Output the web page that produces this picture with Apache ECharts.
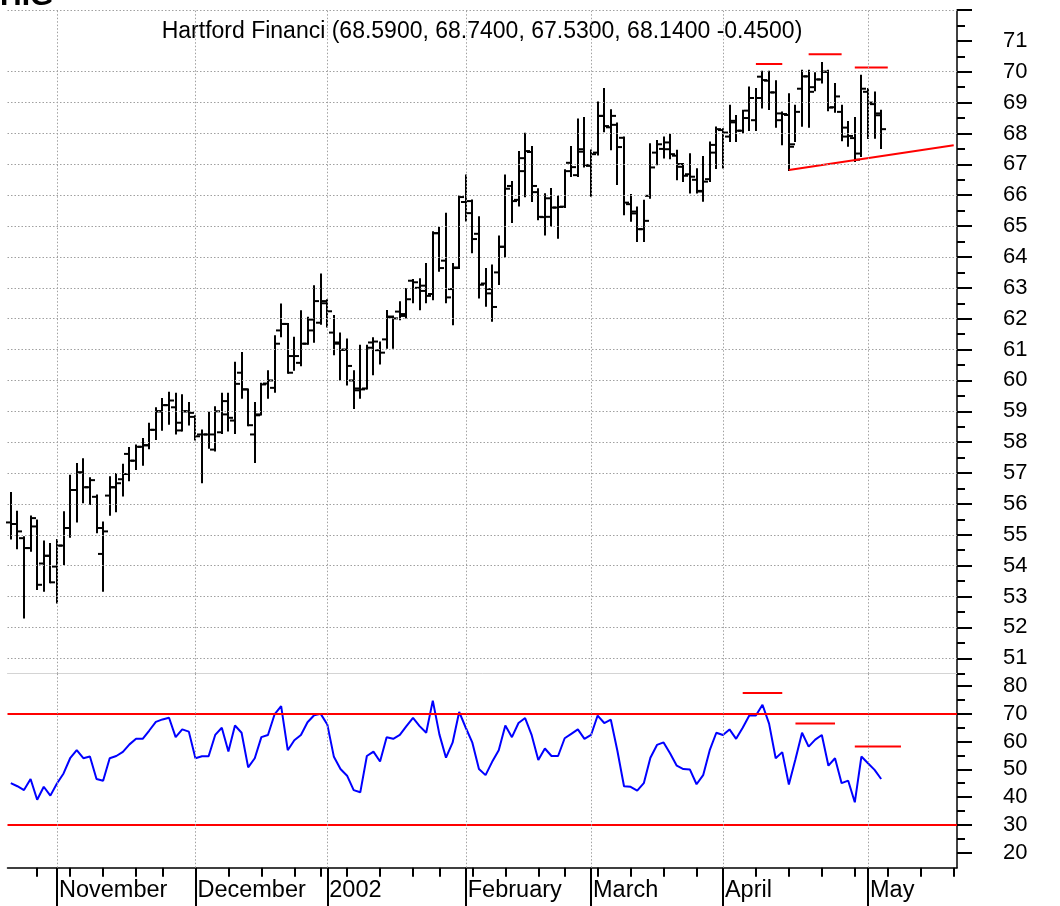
<!DOCTYPE html>
<html>
<head>
<meta charset="utf-8">
<title>HIG</title>
<script src="https://cdn.jsdelivr.net/npm/echarts@6/dist/echarts.min.js"></script>
<style>
html, body { margin: 0; padding: 0; background: #fff; }
#chart { width: 1060px; height: 906px; }
</style>
</head>
<body>
<div id="chart"></div>
<script>
// trading days on the x axis, listed per month
var tradingDays = [
    ['2001-10', [23, 24, 25, 26, 29, 30, 31]],
    ['2001-11', [1, 2, 5, 6, 7, 8, 9, 12, 13, 14, 15, 16, 19, 20, 21, 23, 26, 27, 28, 29, 30]],
    ['2001-12', [3, 4, 5, 6, 7, 10, 11, 12, 13, 14, 17, 18, 19, 20, 21, 24, 26, 27, 28, 31]],
    ['2002-01', [2, 3, 4, 7, 8, 9, 10, 11, 14, 15, 16, 17, 18, 22, 23, 24, 25, 28, 29, 30, 31]],
    ['2002-02', [1, 4, 5, 6, 7, 8, 11, 12, 13, 14, 15, 19, 20, 21, 22, 25, 26, 27, 28]],
    ['2002-03', [1, 4, 5, 6, 7, 8, 11, 12, 13, 14, 15, 18, 19, 20, 21, 22, 25, 26, 27, 28]],
    ['2002-04', [1, 2, 3, 4, 5, 8, 9, 10, 11, 12, 15, 16, 17, 18, 19, 22, 23, 24, 25, 26, 29, 30]],
    ['2002-05', [1, 2, 3, 6, 7, 8, 9, 10, 13, 14, 15, 16, 17, 20]]
];
var monthNames = {
    '2001-11': 'November', '2001-12': 'December', '2002-01': '2002',
    '2002-02': 'February', '2002-03': 'March', '2002-04': 'April', '2002-05': 'May'
};

// daily prices, one entry per trading day from 2001-10-23
var open = [55.4, 55.35, 54.89, 54.57, 55.27, 54.07, 54.32, 53.97, 54.65, 55.22,
    56.45, 57.02, 56.54, 56.23, 54.38, 56.27, 56.54, 56.8, 57.62, 57.4,
    57.85, 57.9, 58.4, 59.0, 59.2, 59.13, 58.38, 59.0, 58.82, 58.25,
    58.25, 57.76, 58.32, 58.9, 58.7, 60.25, 59.71, 58.25, 58.9, 59.9,
    59.76, 61.62, 61.83, 60.79, 60.57, 61.19, 61.62, 61.87, 62.5, 61.55,
    61.23, 61.0, 60.0, 59.68, 59.74, 61.23, 60.98, 61.33, 62.05, 62.23,
    62.15, 63.23, 63.0, 63.07, 62.8, 64.77, 63.88, 62.96, 63.66, 65.78,
    65.81, 64.75, 63.14, 62.82, 63.5, 64.33, 66.3, 65.85, 67.2, 67.4,
    66.1, 65.29, 65.3, 65.6, 65.63, 67.05, 66.65, 67.49, 66.95, 67.38,
    68.57, 68.2, 68.28, 67.86, 65.71, 65.47, 64.9, 65.98, 67.38, 67.5,
    67.49, 67.28, 66.92, 66.68, 66.5, 66.14, 66.52, 67.63, 68.11, 67.9,
    68.41, 68.09, 68.74, 68.43, 69.84, 69.71, 69.33, 68.65, 68.6, 67.65,
    69.45, 69.85, 69.5, 69.75, 70.0, 68.85, 68.7, 68.19, 67.85, 67.35,
    69.35, 68.95, 68.59];
var high = [56.35, 55.75, 54.92, 55.59, 55.46, 54.78, 54.7, 54.83, 55.73, 56.91,
    57.29, 57.45, 56.83, 56.27, 55.4, 56.86, 56.97, 57.27, 57.81, 57.89,
    58.1, 58.6, 59.1, 59.4, 59.6, 59.57, 59.52, 59.27, 58.84, 58.38,
    58.95, 59.13, 59.57, 59.57, 60.57, 60.89, 59.71, 59.27, 59.89, 60.3,
    61.43, 62.46, 61.83, 61.38, 62.24, 62.03, 63.05, 63.43, 62.6, 62.09,
    61.52, 61.33, 60.3, 61.12, 61.12, 61.37, 61.23, 62.25, 62.07, 62.53,
    62.96, 63.25, 63.28, 63.77, 64.8, 64.94, 65.4, 63.77, 65.96, 66.64,
    65.83, 65.29, 63.61, 63.72, 64.66, 66.64, 66.43, 67.4, 67.99, 67.56,
    66.19, 66.03, 66.2, 65.97, 66.81, 67.56, 68.45, 68.5, 67.45, 69.0,
    69.44, 68.75, 68.32, 67.87, 66.01, 65.6, 65.82, 67.65, 67.76, 67.87,
    67.95, 67.44, 67.01, 67.33, 66.84, 67.24, 67.71, 68.19, 68.14, 68.9,
    68.57, 68.74, 69.49, 69.44, 70.0, 70.0, 69.69, 68.68, 69.27, 68.9,
    70.03, 70.03, 69.95, 70.28, 70.03, 69.6, 68.9, 68.37, 68.5, 69.87,
    69.44, 69.33, 68.74];
var low = [54.88, 54.56, 52.32, 54.48, 53.24, 53.19, 53.46, 52.81, 54.05, 54.94,
    55.43, 56.05, 56.0, 55.08, 53.19, 55.65, 55.76, 56.27, 56.77, 57.13,
    57.27, 57.8, 58.1, 58.4, 58.6, 58.28, 58.38, 58.57, 58.09, 56.7,
    57.82, 57.73, 58.3, 58.38, 58.3, 59.44, 58.55, 57.36, 58.9, 59.44,
    59.63, 61.43, 60.25, 60.35, 60.49, 61.19, 61.25, 61.84, 61.75, 60.85,
    60.03, 59.87, 59.11, 59.44, 59.74, 60.2, 60.55, 61.06, 61.06, 61.98,
    62.04, 62.53, 62.31, 62.53, 62.63, 63.55, 62.53, 61.82, 63.64, 65.18,
    64.15, 62.69, 62.42, 61.93, 63.12, 64.01, 65.13, 65.67, 65.97, 65.81,
    65.22, 64.73, 65.0, 64.62, 65.62, 66.62, 66.62, 66.93, 65.98, 67.32,
    68.07, 67.49, 66.36, 65.38, 65.17, 64.52, 64.52, 65.92, 67.0, 67.22,
    67.2, 66.52, 66.46, 66.09, 66.09, 65.82, 66.46, 66.88, 66.9, 67.76,
    67.76, 68.03, 68.11, 68.11, 68.84, 68.79, 68.22, 67.65, 66.82, 67.76,
    68.25, 68.22, 69.4, 69.65, 68.75, 68.7, 67.78, 67.6, 67.11, 67.27,
    67.85, 67.86, 67.53];
var close = [55.35, 55.11, 54.57, 55.54, 53.38, 54.32, 53.46, 54.65, 55.22, 56.45,
    57.02, 56.54, 56.77, 55.22, 55.11, 56.54, 56.67, 56.97, 57.4, 57.85,
    57.9, 58.4, 59.0, 59.2, 59.35, 58.63, 59.0, 58.95, 58.19, 58.25,
    58.25, 59.0, 59.33, 58.79, 59.89, 59.71, 58.55, 58.87, 59.87, 60.0,
    61.19, 61.83, 60.25, 60.79, 61.19, 61.97, 62.57, 62.57, 62.24, 61.19,
    60.99, 60.47, 59.74, 59.71, 61.06, 61.26, 60.9, 62.07, 62.01, 62.09,
    62.63, 63.18, 62.9, 62.74, 64.77, 63.64, 62.69, 63.64, 65.94, 65.42,
    64.58, 63.1, 62.96, 62.38, 64.33, 66.21, 65.81, 66.78, 67.43, 66.3,
    65.3, 65.9, 65.6, 65.62, 66.78, 66.91, 67.41, 66.98, 67.33, 68.57,
    68.24, 68.57, 67.56, 65.76, 65.41, 64.9, 65.17, 66.9, 67.65, 67.71,
    67.33, 67.01, 66.63, 66.6, 66.12, 66.44, 67.38, 68.14, 68.03, 68.36,
    68.09, 68.5, 69.15, 69.15, 69.73, 69.33, 68.43, 68.63, 67.57, 68.7,
    69.85, 69.35, 69.75, 70.0, 68.84, 69.2, 67.9, 67.92, 67.15, 69.45,
    69.0, 68.65, 68.14];

// RSI
var rsi = [45.0, 43.9, 42.5, 46.5, 39.0, 43.7, 40.5, 44.9, 48.5, 54.0,
    56.9, 54.0, 54.6, 46.5, 45.9, 54.0, 54.8, 56.3, 59.0, 61.0,
    61.0, 64.0, 67.1, 68.0, 68.6, 61.6, 64.4, 63.6, 54.0, 54.7,
    54.7, 62.4, 65.0, 56.4, 65.8, 63.2, 50.7, 54.0, 61.6, 62.4,
    69.8, 72.8, 56.9, 60.5, 62.4, 67.0, 69.5, 70.0, 66.2, 54.5,
    50.1, 47.7, 42.5, 41.7, 54.8, 56.4, 52.8, 61.6, 61.0, 62.4,
    65.6, 68.6, 65.6, 63.2, 74.8, 62.6, 54.2, 59.6, 70.7, 65.0,
    59.6, 50.1, 47.9, 52.7, 56.9, 65.8, 61.6, 66.7, 68.5, 62.3,
    53.4, 57.5, 54.8, 54.8, 61.2, 62.8, 64.4, 61.0, 62.4, 69.4,
    66.7, 67.9, 56.6, 43.9, 43.7, 42.3, 45.0, 54.2, 58.8, 59.7,
    55.7, 51.3, 50.1, 49.9, 44.6, 47.9, 56.9, 63.2, 62.4, 64.4,
    61.0, 65.0, 69.4, 69.4, 73.3, 66.5, 54.0, 56.2, 44.5, 53.6,
    63.2, 58.2, 60.7, 62.4, 51.3, 54.0, 45.0, 45.9, 38.1, 54.6,
    52.2, 49.8, 46.5];

// drawn annotations: [day index, value] pairs
var supportLine = [[118, 66.82], [143, 67.62]];
var priceTops = [[[113, 70.25], [117, 70.25]], [[121, 70.57], [126, 70.57]], [[128, 70.14], [133, 70.14]]];
var rsiTops = [[[111, 77.5], [117, 77.5]], [[119, 66.5], [125, 66.5]], [[128, 58.2], [135, 58.2]]];
var rsiLevels = [70, 30];

var priceTicks = [51, 52, 53, 54, 55, 56, 57, 58, 59, 60, 61, 62, 63, 64, 65, 66, 67, 68, 69, 70, 71, 72];
var priceLabels = priceTicks.slice(0, 21);
var priceHalfTicks = priceTicks.map(function (v) { return v - 0.5; });
var priceGrid = [72, 70, 69, 68, 67, 66, 65, 64, 63, 62, 61, 60, 59, 58, 57, 56, 55, 54, 53, 52, 51];
var rsiTicks = [20, 30, 40, 50, 60, 70, 80];
var rsiHalfTicks = [25, 35, 45, 55, 65, 75];

var dates = [];
tradingDays.forEach(function (m) {
    m[1].forEach(function (d) { dates.push(m[0] + '-' + (d < 10 ? '0' + d : d)); });
});
function dow(s) {
    var p = s.split('-');
    return new Date(Date.UTC(+p[0], +p[1] - 1, +p[2])).getUTCDay();
}
var weekStart = dates.map(function (d, i) { return i > 0 && dow(d) <= dow(dates[i - 1]); });
var monthStart = dates.map(function (d, i) { return i > 0 && d.slice(0, 7) !== dates[i - 1].slice(0, 7); });
var monthDates = dates.filter(function (d, i) { return monthStart[i]; });

var ohlc = open.map(function (o, i) { return [i, o, high[i], low[i], close[i]]; });

var font = 'Liberation Sans, Arial, sans-serif';
var dotted = { color: '#a0a0a0', type: [1.5, 2], width: 1 };
var gridPrice = { left: 7.5, right: 103, top: 10, height: 663.7 };
var gridRsi = { left: 7.5, right: 103, top: 673.7, height: 194 };

function seg(pairs, xi, yi, color) {
    return {
        type: 'line', xAxisIndex: xi, yAxisIndex: yi, z: 4, silent: true,
        showSymbol: false, symbol: 'none',
        data: pairs.map(function (p) { return [dates[p[0]], p[1]]; }),
        lineStyle: { color: color, width: 2 }
    };
}

var chart = echarts.init(document.getElementById('chart'));
var option = {
    animation: false,
    backgroundColor: '#fff',
    textStyle: { fontFamily: font },
    grid: [gridPrice, gridRsi, gridPrice, gridRsi],
    xAxis: [
        {
            type: 'category', gridIndex: 0, data: dates, boundaryGap: true,
            axisLine: { show: true, lineStyle: { color: '#d4d4d4', width: 1 } },
            axisTick: { show: false }, axisLabel: { show: false }, splitLine: { show: false }
        },
        {
            type: 'category', gridIndex: 1, data: dates, boundaryGap: true,
            axisLine: { show: true, lineStyle: { color: '#000', width: 1.5 } },
            axisTick: {
                show: true, alignWithLabel: true, length: 9,
                interval: function (i) { return weekStart[i]; },
                lineStyle: { color: '#000', width: 2 }
            },
            axisLabel: { show: false }, splitLine: { show: false }
        },
        { type: 'category', gridIndex: 2, data: dates, show: false },
        {
            type: 'category', gridIndex: 3, data: dates, boundaryGap: true,
            axisLine: { show: false },
            axisTick: {
                show: true, alignWithLabel: true, length: 39,
                interval: function (i) { return monthStart[i]; },
                lineStyle: { color: '#000', width: 2 }
            },
            axisLabel: {
                show: true, interval: function (i) { return monthStart[i]; },
                formatter: function (v) { return monthNames[v.slice(0, 7)] || ''; },
                align: 'left', padding: [0, 0, 0, 2], margin: 11,
                fontSize: 23.5, color: '#000', fontFamily: font
            },
            splitLine: { show: false }
        }
    ],
    yAxis: [
        {
            type: 'value', gridIndex: 0, position: 'right', min: 50.5, max: 72,
            axisLine: { show: true, lineStyle: { color: '#000', width: 1.5 } },
            axisTick: { show: true, customValues: priceTicks, length: 15, lineStyle: { color: '#000', width: 2 } },
            axisLabel: { show: true, customValues: priceLabels, margin: 46, align: 'left', fontSize: 22, color: '#000', fontFamily: font },
            splitLine: { show: false }
        },
        {
            type: 'value', gridIndex: 1, position: 'right', min: 14.5, max: 84.5,
            axisLine: { show: true, lineStyle: { color: '#000', width: 1.5 } },
            axisTick: { show: true, customValues: rsiTicks, length: 15, lineStyle: { color: '#000', width: 2 } },
            axisLabel: { show: true, customValues: rsiTicks, margin: 46, align: 'left', fontSize: 22, color: '#000', fontFamily: font },
            splitLine: { show: false }
        },
        {
            type: 'value', gridIndex: 2, position: 'right', min: 50.5, max: 72,
            axisLine: { show: false },
            axisTick: { show: true, customValues: priceHalfTicks, length: 8, lineStyle: { color: '#000', width: 2 } },
            axisLabel: { show: false }, splitLine: { show: false }
        },
        {
            type: 'value', gridIndex: 3, position: 'right', min: 14.5, max: 84.5,
            axisLine: { show: false },
            axisTick: { show: true, customValues: rsiHalfTicks, length: 8, lineStyle: { color: '#000', width: 2 } },
            axisLabel: { show: false }, splitLine: { show: false }
        }
    ],
    graphic: [
        {
            type: 'text', x: 0, y: 12, silent: true,
            style: { text: 'HIG', font: 'bold 30px ' + font, fill: '#000', verticalAlign: 'bottom' }
        },
        {
            type: 'text', x: 482, y: 32, silent: true,
            style: {
                text: 'Hartford Financi (68.5900, 68.7400, 67.5300, 68.1400 -0.4500)',
                font: '23px ' + font, fill: '#000', align: 'center', verticalAlign: 'middle'
            }
        }
    ],
    series: [
        {
            // grid lines of the price panel
            type: 'line', xAxisIndex: 0, yAxisIndex: 0, z: 1, silent: true,
            data: close, showSymbol: false, lineStyle: { opacity: 0 },
            markLine: {
                silent: true, symbol: 'none', label: { show: false }, emphasis: { disabled: true },
                lineStyle: dotted,
                data: priceGrid.map(function (v) { return { yAxis: v }; })
                    .concat(monthDates.map(function (d) { return { xAxis: d }; }))
            }
        },
        {
            type: 'custom', xAxisIndex: 0, yAxisIndex: 0, z: 3, silent: true,
            data: ohlc,
            encode: { x: 0, y: [1, 2, 3, 4] },
            renderItem: function (params, api) {
                var i = api.value(0);
                var o = api.coord([i, api.value(1)]);
                var h = api.coord([i, api.value(2)]);
                var l = api.coord([i, api.value(3)]);
                var c = api.coord([i, api.value(4)]);
                var x = Math.round(h[0]);
                var st = { stroke: '#000', lineWidth: 2 };
                return {
                    type: 'group',
                    children: [
                        { type: 'line', shape: { x1: x, y1: h[1] - 1, x2: x, y2: l[1] + 1 }, style: st },
                        { type: 'line', shape: { x1: x - 5, y1: o[1], x2: x, y2: o[1] }, style: st },
                        { type: 'line', shape: { x1: x, y1: c[1], x2: x + 5, y2: c[1] }, style: st }
                    ]
                };
            }
        },
        seg(supportLine, 0, 0, '#ff0000'),
        seg(priceTops[0], 0, 0, '#ff0000'),
        seg(priceTops[1], 0, 0, '#ff0000'),
        seg(priceTops[2], 0, 0, '#ff0000'),
        {
            type: 'line', xAxisIndex: 1, yAxisIndex: 1, z: 3, silent: true,
            data: rsi, showSymbol: false, symbol: 'none',
            lineStyle: { color: '#0000ff', width: 2 },
            markLine: {
                silent: true, symbol: 'none', label: { show: false }, emphasis: { disabled: true },
                data: rsiLevels.map(function (v) { return { yAxis: v, lineStyle: { color: '#ff0000', width: 2, type: 'solid' } }; })
                    .concat(monthDates.map(function (d) { return { xAxis: d, lineStyle: dotted }; }))
            }
        },
        seg(rsiTops[0], 1, 1, '#ff0000'),
        seg(rsiTops[1], 1, 1, '#ff0000'),
        seg(rsiTops[2], 1, 1, '#ff0000')
    ]
};
chart.setOption(option);
</script>
</body>
</html>
